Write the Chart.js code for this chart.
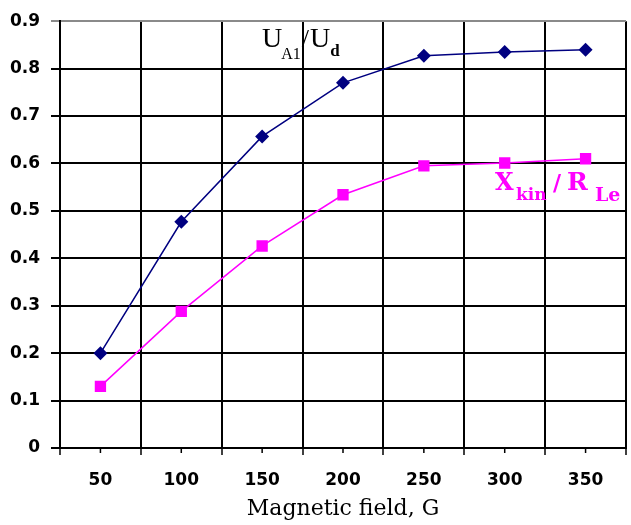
<!DOCTYPE html>
<html>
<head>
<meta charset="utf-8">
<script src="https://cdn.jsdelivr.net/npm/chart.js@4.4.1/dist/chart.umd.min.js"></script>
<style>
  html, body { margin: 0; padding: 0; background: #fff; overflow: hidden; }
  #wrap { position: relative; width: 634px; height: 525px; }
</style>
</head>
<body>
<div id="wrap"><canvas id="chart"></canvas></div>
<script>
// Magnetic field values (G)
const fields = ['50', '100', '150', '200', '250', '300', '350'];
// U_A1 / U_d
const uRatio = [0.20, 0.477, 0.657, 0.770, 0.827, 0.835, 0.840];
// X_kin / R_Le
const xRatio = [0.130, 0.288, 0.426, 0.534, 0.595, 0.601, 0.610];
const yTicks = [0, 0.1, 0.2, 0.3, 0.4, 0.5, 0.6, 0.7, 0.8, 0.9];

const NAVY = '#000080';
const MAGENTA = '#ff00ff';
const SANS = '"DejaVu Sans", Verdana, sans-serif';
const SERIF = '"DejaVu Serif", Georgia, serif';
const TIMES = '"Liberation Serif", "Times New Roman", serif';

// draws a run of text pieces one after the other
function drawRun(ctx, x, parts) {
  parts.forEach(p => {
    ctx.font = p.font;
    ctx.fillStyle = p.color;
    x += p.dx || 0;
    ctx.fillText(p.text, x, p.y);
    x += ctx.measureText(p.text).width;
  });
}

// pieces placed at their own x
function drawAt(ctx, parts) {
  parts.forEach(p => {
    ctx.font = p.font;
    ctx.fillStyle = p.color;
    ctx.fillText(p.text, p.x, p.y);
  });
}

const labelsPlugin = {
  id: 'labels',
  afterDraw(chart) {
    const ctx = chart.ctx;
    const xs = chart.scales.x;
    const bottom = chart.chartArea.bottom;
    ctx.save();
    // short ticks at category centres
    ctx.strokeStyle = '#000';
    ctx.lineWidth = 1.5;
    fields.forEach((f, i) => {
      const px = xs.getPixelForValue(i);
      ctx.beginPath();
      ctx.moveTo(px, bottom);
      ctx.lineTo(px, bottom + 5);
      ctx.stroke();
    });
    ctx.textBaseline = 'alphabetic';
    ctx.textAlign = 'left';
    drawRun(ctx, 262, [
      { text: 'U', font: '28px ' + TIMES, color: '#000', y: 47 },
      { text: 'A1', font: '16px ' + TIMES, color: '#000', y: 59, dx: -1 },
      { text: '/', font: '26px ' + TIMES, color: '#000', y: 47, dx: 1 },
      { text: 'U', font: '28px ' + TIMES, color: '#000', y: 47, dx: 1 },
      { text: 'd', font: 'bold 17px ' + TIMES, color: '#000', y: 56, dx: 0 }
    ]);
    drawAt(ctx, [
      { text: 'X', x: 495, font: 'bold 24px ' + SERIF, color: MAGENTA, y: 190 },
      { text: 'kin', x: 516, font: 'bold 17px ' + SERIF, color: MAGENTA, y: 200 },
      { text: '/', x: 553, font: 'bold 22px ' + SERIF, color: MAGENTA, y: 190 },
      { text: 'R', x: 567, font: 'bold 25px ' + SERIF, color: MAGENTA, y: 190 },
      { text: 'Le', x: 595, font: 'bold 19px ' + SERIF, color: MAGENTA, y: 201 }
    ]);
    ctx.restore();
  }
};

new Chart(document.getElementById('chart'), {
  type: 'line',
  data: {
    labels: fields,
    datasets: [
      {
        label: 'UA1/Ud',
        data: uRatio,
        borderColor: NAVY,
        backgroundColor: NAVY,
        borderWidth: 1.5,
        pointStyle: 'rectRot',
        pointRadius: 7,
        pointBorderWidth: 0,
        tension: 0
      },
      {
        label: 'Xkin/RLe',
        data: xRatio,
        borderColor: MAGENTA,
        backgroundColor: MAGENTA,
        borderWidth: 1.5,
        pointStyle: 'rect',
        pointRadius: 8,
        pointBorderWidth: 0,
        tension: 0
      }
    ]
  },
  options: {
    responsive: true,
    maintainAspectRatio: false,
    animation: false,
    layout: { padding: { top: 17, right: 1, left: 0, bottom: 0 } },
    plugins: {
      legend: { display: false },
      tooltip: { enabled: false }
    },
    scales: {
      x: {
        offset: true,
        grid: {
          offset: true,
          color: '#000',
          lineWidth: 2,
          tickLength: 7,
          tickColor: '#000',
          tickWidth: 1.5
        },
        border: { color: '#000', width: 2 },
        ticks: {
          color: '#000',
          padding: 15,
          font: { family: SANS, size: 17, weight: 'bold' }
        },
        title: {
          display: true,
          text: 'Magnetic field, G',
          color: '#000',
          padding: { top: 0, bottom: 3 },
          font: { family: SERIF, size: 22 }
        },
        afterFit(scale) { scale.height = 77; }
      },
      y: {
        min: 0,
        max: 0.9,
        afterBuildTicks(scale) { scale.ticks = yTicks.map(v => ({ value: v })); },
        grid: {
          color: ctx => (ctx.tick && ctx.tick.value === 0.9 ? '#8a8a8a' : '#000'),
          lineWidth: 2,
          tickLength: 9
        },
        border: { color: '#000', width: 2 },
        ticks: {
          color: '#000',
          padding: 11,
          font: { family: SANS, size: 17, weight: 'bold' },
          callback: v => String(Math.round(v * 10) / 10)
        },
        afterFit(scale) { scale.width = 60; }
      }
    }
  },
  plugins: [labelsPlugin]
});
</script>
</body>
</html>
